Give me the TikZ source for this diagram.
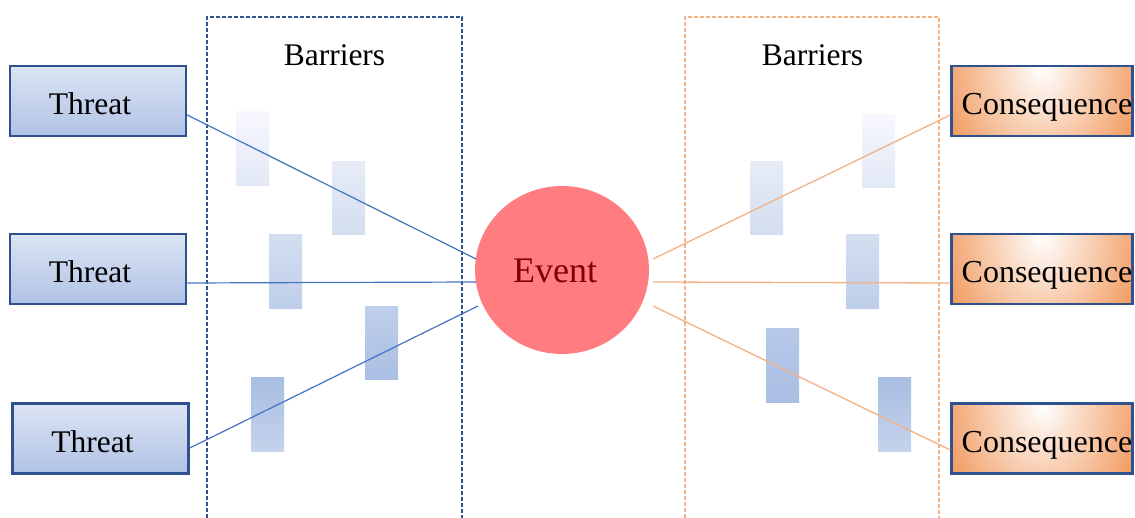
\documentclass[tikz,border=0pt]{standalone}
\usepackage{fontspec}
\setmainfont{Liberation Serif}
\usetikzlibrary{shapes.geometric}

\definecolor{frameblue}{HTML}{2F528F}
\definecolor{lineblue}{HTML}{4472C4}
\definecolor{lineorange}{HTML}{F4B183}
\definecolor{fillorange}{HTML}{ED7D31}
\definecolor{eventred}{HTML}{FF7C80}
\definecolor{eventtext}{HTML}{800000}
\definecolor{tbA}{HTML}{F2F5FB}
\definecolor{tbB}{HTML}{A6BBE2}
\definecolor{tbC}{HTML}{B5C6E7}

% soft blue fill of the threat boxes, light at the top
\pgfdeclareverticalshading{threatfill}{100bp}{%
  color(0bp)=(tbC); color(14bp)=(tbB); color(100bp)=(tbA)}

\begin{document}
\begin{tikzpicture}[x=1pt,y=-1pt,
  threatbox/.style={draw=frameblue, line width=2.5pt, shading=threatfill,
    minimum width=176pt, minimum height=70pt, inner sep=0pt,
    font=\fontsize{31.5}{36}\selectfont, text height=27pt, text depth=0pt},
  consbox/.style={draw=frameblue, line width=2.7pt,
    minimum width=178pt, minimum height=70pt, inner sep=0pt,
    font=\fontsize{32}{36}\selectfont, text height=27pt, text depth=0pt,
    path picture={
      \fill[fillorange] (path picture bounding box.south west)
        rectangle (path picture bounding box.north east);
      \shade[inner color=white, outer color=fillorange]
        ([yshift=-2pt]path picture bounding box.north)
        ellipse [x radius=135pt, y radius=172pt];
    }},
  eventnode/.style={ellipse, fill=eventred, minimum width=174pt,
    minimum height=168pt, inner sep=0pt, text=eventtext,
    font=\fontsize{36}{40}\selectfont, text height=26pt, text depth=0pt},
  barrierlabel/.style={anchor=base, font=\fontsize{31.5}{36}\selectfont},
  bluelink/.style={draw=lineblue, line width=1.2pt},
  orangelink/.style={draw=lineorange, line width=1.3pt},
  blueframe/.style={draw=frameblue, line width=1.5pt, dash pattern=on 4pt off 2pt},
  orangeframe/.style={draw=lineorange, line width=1.5pt, dash pattern=on 4pt off 2pt},
]
\useasboundingbox (0,0) rectangle (1135,518);
\fill[white] (0,0) rectangle (1135,518);

% barrier zones
\draw[blueframe] (207,530) -- (207,17) -- (462,17) -- (462,530);
\draw[orangeframe] (685,530) -- (685,17) -- (939,17) -- (939,530);
\node[barrierlabel] (barL) at (334.5,66) {Barriers};
\node[barrierlabel] (barR) at (812.5,66) {Barriers};

% barrier bars, left
\shade[top color=blue!3!white, bottom color={rgb,255:red,225;green,232;blue,245}] (236,112) rectangle (269,186);
\shade[top color={rgb,255:red,230;green,236;blue,247}, bottom color={rgb,255:red,211;green,222;blue,240}] (332,162) rectangle (365,235);
\shade[top color={rgb,255:red,211;green,222;blue,240}, bottom color={rgb,255:red,190;green,206;blue,234}] (269,235) rectangle (302,309);
\shade[top color={rgb,255:red,191;green,206;blue,234}, bottom color={rgb,255:red,170;green,191;blue,228}] (365,307) rectangle (398,380);
\shade[top color={rgb,255:red,169;green,190;blue,227}, bottom color={rgb,255:red,197;green,211;blue,236}] (251,378) rectangle (284,451);

% barrier bars, right
\shade[top color=blue!3!white, bottom color={rgb,255:red,225;green,232;blue,245}] (862,115) rectangle (895,188);
\shade[top color={rgb,255:red,230;green,236;blue,247}, bottom color={rgb,255:red,211;green,222;blue,240}] (750,162) rectangle (783,235);
\shade[top color={rgb,255:red,211;green,222;blue,240}, bottom color={rgb,255:red,190;green,206;blue,234}] (846,235) rectangle (879,309);
\shade[top color={rgb,255:red,183;green,200;blue,232}, bottom color={rgb,255:red,170;green,191;blue,228}] (766,329) rectangle (799,402);
\shade[top color={rgb,255:red,169;green,190;blue,227}, bottom color={rgb,255:red,197;green,211;blue,236}] (878,378) rectangle (911,451);

% threats
\node[threatbox] (t1) at (98,101)    {Threat\hspace*{16pt}};
\node[threatbox] (t2) at (98,269)    {Threat\hspace*{16pt}};
\node[threatbox] (t3) at (100.5,438.5) {Threat\hspace*{16pt}};

% consequences
\node[consbox] (c1) at (1042,101)   {\hspace*{10pt}Consequence};
\node[consbox] (c2) at (1042,269)   {\hspace*{10pt}Consequence};
\node[consbox] (c3) at (1042,438.5) {\hspace*{10pt}Consequence};

% top event
\node[eventnode] (ev) at (562,270) {Event\hspace*{14pt}};
\coordinate (evw1) at ([shift={(-86pt,11pt)}]ev.center);
\coordinate (evw2) at ([shift={(-86pt,-12pt)}]ev.center);
\coordinate (evw3) at ([shift={(-84pt,-36pt)}]ev.center);
\coordinate (eve1) at ([shift={(91pt,11pt)}]ev.center);
\coordinate (eve2) at ([shift={(91pt,-12pt)}]ev.center);
\coordinate (eve3) at ([shift={(91pt,-36pt)}]ev.center);

% links
\draw[bluelink] ([yshift=-14pt]t1.east) -- (evw1);
\draw[bluelink] ([yshift=-14pt]t2.east) -- (evw2);
\draw[bluelink] ([yshift=-9.5pt]t3.east) -- (evw3);
\draw[orangelink] (eve1) -- ([yshift=-14pt]c1.west);
\draw[orangelink] (eve2) -- ([yshift=-14pt]c2.west);
\draw[orangelink] (eve3) -- ([yshift=-11.5pt]c3.west);
\end{tikzpicture}
\end{document}
